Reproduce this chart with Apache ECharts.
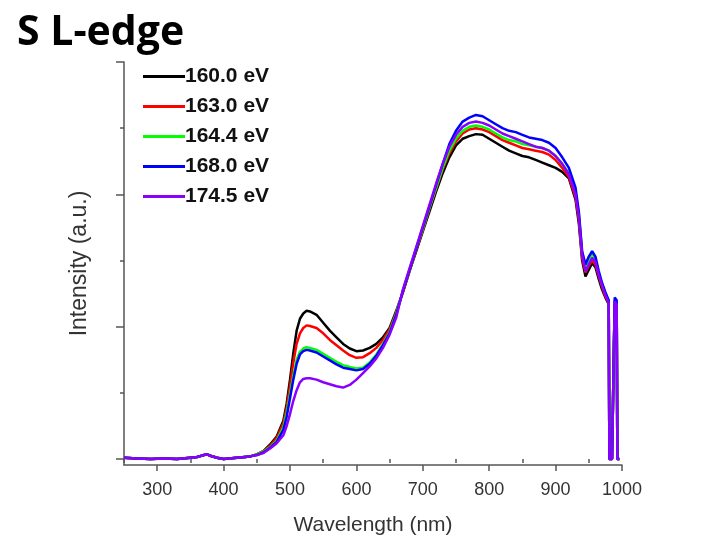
<!DOCTYPE html>
<html><head><meta charset="utf-8">
<script src="https://cdn.jsdelivr.net/npm/echarts@6/dist/echarts.min.js"></script>
<style>html,body{margin:0;padding:0;background:#fff}#c{width:722px;height:555px}</style>
</head><body><div id="c"></div>
<script>
// wavelengths (nm)
const wavelength = [
  250,270,290,310,330,350,360,370,375,380,390,400,420,440,450,460,470,
  480,490,495,500,505,510,515,520,525,530,
  540,550,560,570,580,590,600,610,620,630,640,650,660,
  670,680,690,700,710,720,730,740,750,760,770,780,790,800,
  810,820,830,840,850,860,870,880,890,900,910,920,930,
  935,940,945,950,955,960,965,970,975,980,
  981,985,988,989,992,993,996
];
const seriesNames = ['160.0 eV','163.0 eV','164.4 eV','168.0 eV','174.5 eV'];
const s160 = [
  0.01,0.005,0.0,0.005,0.0,0.01,0.015,0.03,0.035,0.025,0.01,0.0,0.01,0.02,0.035,0.06,0.11,
  0.17,0.29,0.42,0.60,0.80,0.97,1.06,1.10,1.12,1.115,
  1.09,1.03,0.97,0.92,0.87,0.835,0.815,0.82,0.84,0.87,0.92,0.99,1.12,
  1.26,1.42,1.57,1.72,1.87,2.02,2.16,2.28,2.37,2.42,2.44,2.455,2.45,2.42,
  2.39,2.36,2.33,2.31,2.29,2.28,2.26,2.24,2.22,2.20,2.17,2.12,1.96,
  1.78,1.50,1.38,1.43,1.48,1.45,1.36,1.28,1.22,1.17,
  0.0,0.0,0.0,1.18,1.16,0.0,0.0
];
const s163 = [
  0.01,0.005,0.0,0.005,0.0,0.01,0.015,0.03,0.035,0.025,0.01,0.0,0.01,0.02,0.035,0.06,0.10,
  0.16,0.27,0.39,0.55,0.73,0.87,0.95,0.99,1.01,1.005,
  0.99,0.95,0.90,0.86,0.82,0.785,0.765,0.77,0.80,0.84,0.90,0.98,1.11,
  1.26,1.42,1.58,1.73,1.89,2.04,2.19,2.31,2.40,2.46,2.49,2.50,2.49,2.47,
  2.44,2.41,2.39,2.37,2.35,2.34,2.33,2.32,2.30,2.26,2.20,2.13,1.98,
  1.81,1.52,1.41,1.46,1.50,1.47,1.38,1.30,1.23,1.18,
  0.0,0.0,0.0,1.19,1.17,0.0,0.0
];
const s164 = [
  0.01,0.005,0.0,0.005,0.0,0.01,0.015,0.03,0.035,0.025,0.01,0.0,0.01,0.02,0.035,0.055,0.09,
  0.14,0.24,0.35,0.49,0.63,0.75,0.81,0.835,0.845,0.84,
  0.825,0.795,0.765,0.735,0.71,0.695,0.685,0.69,0.73,0.79,0.87,0.96,1.10,
  1.27,1.43,1.59,1.74,1.90,2.05,2.20,2.33,2.42,2.48,2.51,2.52,2.51,2.49,
  2.46,2.43,2.41,2.40,2.38,2.37,2.36,2.35,2.33,2.29,2.23,2.16,2.01,
  1.85,1.55,1.45,1.51,1.55,1.51,1.40,1.32,1.25,1.19,
  0.0,0.0,0.0,1.20,1.18,0.0,0.0
];
const s168 = [
  0.01,0.005,0.0,0.005,0.0,0.01,0.015,0.03,0.035,0.025,0.01,0.0,0.01,0.02,0.03,0.05,0.085,
  0.13,0.22,0.32,0.46,0.60,0.72,0.79,0.815,0.825,0.82,
  0.805,0.775,0.745,0.715,0.69,0.68,0.67,0.68,0.72,0.78,0.86,0.95,1.09,
  1.27,1.43,1.59,1.75,1.91,2.07,2.23,2.38,2.48,2.55,2.58,2.60,2.59,2.56,
  2.53,2.50,2.48,2.47,2.45,2.43,2.42,2.41,2.39,2.35,2.28,2.20,2.05,
  1.87,1.57,1.47,1.53,1.57,1.53,1.42,1.33,1.26,1.20,
  0.0,0.0,0.0,1.22,1.20,0.0,0.0
];
const s174 = [
  0.01,0.005,0.0,0.005,0.0,0.01,0.015,0.03,0.035,0.025,0.01,0.0,0.01,0.02,0.03,0.045,0.08,
  0.12,0.18,0.25,0.34,0.44,0.52,0.58,0.605,0.61,0.61,
  0.60,0.58,0.565,0.55,0.54,0.56,0.60,0.65,0.70,0.76,0.84,0.94,1.07,
  1.28,1.44,1.60,1.76,1.92,2.08,2.23,2.36,2.45,2.51,2.54,2.55,2.54,2.52,
  2.49,2.46,2.44,2.42,2.40,2.38,2.36,2.35,2.33,2.29,2.23,2.15,2.00,
  1.83,1.54,1.42,1.47,1.52,1.49,1.39,1.31,1.24,1.18,
  0.0,0.0,0.0,1.19,1.17,0.0,0.0
];
const xMajorTicks = [300,400,500,600,700,800,900,1000];
const xMinorTicks = [250,350,450,550,650,750,850,950];
const yMajorTicks = [0,1,2,3];
const yMinorTicks = [0.5,1.5,2.5];

const colors = ['#000000','#ff0000','#00ff00','#0000ff','#8a00ff'];
const allSeries = [s160,s163,s164,s168,s174];

const chart = echarts.init(document.getElementById('c'), null, {renderer:'canvas'});
const axisCol = '#555555';
chart.setOption({
  animation:false,
  backgroundColor:'#ffffff',
  title:{text:'S L-edge', left:12, top:8,
    textStyle:{fontFamily:'Open Sans', fontWeight:'bold', fontSize:41, color:'#000'}},
  legend:{
    data:seriesNames, orient:'vertical', left:138, top:61,
    icon:'rect', itemWidth:42, itemHeight:3, itemGap:9,
    textStyle:{fontFamily:'Liberation Sans', fontWeight:'bold', fontSize:21, color:'#111', lineHeight:21, padding:[0,0,0,-5]}
  },
  grid:{left:124, right:100, top:62, bottom:90, containLabel:false},
  xAxis:[{
    type:'value', min:250, max:1000,
    name:'Wavelength (nm)', nameLocation:'middle', nameGap:50,
    nameTextStyle:{fontFamily:'Liberation Sans', fontSize:21, color:'#333'},
    axisLine:{show:true, onZero:false, lineStyle:{color:axisCol, width:1.5}},
    axisTick:{show:true, inside:false, length:6, customValues:xMajorTicks, lineStyle:{color:axisCol, width:1.5}},
    axisLabel:{show:true, customValues:xMajorTicks, margin:16, fontFamily:'Liberation Sans', fontSize:18, color:'#333',
      formatter:(v)=>String(v)},
    splitLine:{show:false}
  },{
    type:'value', min:250, max:1000, position:'bottom',
    axisLine:{show:false},
    axisTick:{show:true, length:4, customValues:xMinorTicks, lineStyle:{color:axisCol, width:1.5}},
    axisLabel:{show:false}, splitLine:{show:false}
  }],
  yAxis:[{
    type:'value', min:-0.045, max:3,
    name:'Intensity (a.u.)', nameLocation:'middle', nameGap:33,
    nameTextStyle:{fontFamily:'Liberation Sans', fontSize:23, color:'#333'},
    axisLine:{show:true, onZero:false, lineStyle:{color:axisCol, width:1.5}},
    axisTick:{show:true, length:8, customValues:yMajorTicks, lineStyle:{color:axisCol, width:1.5}},
    axisLabel:{show:false}, splitLine:{show:false}
  },{
    type:'value', min:-0.045, max:3, position:'left',
    axisLine:{show:false},
    axisTick:{show:true, length:4, customValues:yMinorTicks, lineStyle:{color:axisCol, width:1.5}},
    axisLabel:{show:false}, splitLine:{show:false}
  }],
  series: allSeries.map((arr,i)=>({
    name:seriesNames[i], type:'line', xAxisIndex:0, yAxisIndex:0,
    data: arr.map((v,j)=>[wavelength[j], v]),
    symbol:'none', showSymbol:false,
    lineStyle:{color:colors[i], width:2.5},
    itemStyle:{color:colors[i]},
    z:2+i
  }))
});
</script></body></html>
